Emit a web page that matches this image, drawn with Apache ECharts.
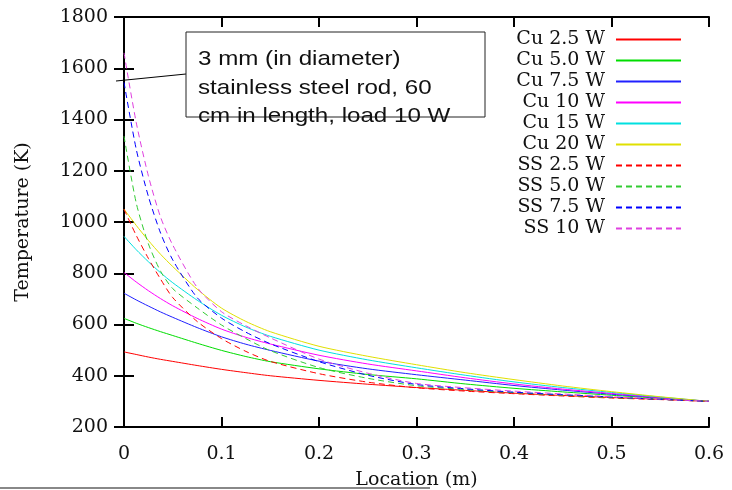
<!DOCTYPE html>
<html><head><meta charset="utf-8">
<script src="https://cdn.jsdelivr.net/npm/echarts@6/dist/echarts.min.js"></script>
<style>html,body{margin:0;padding:0;background:#fff}#c{width:732px;height:490px}</style>
</head><body><div id="c"></div>
<script>
const xs = [0, 0.0125, 0.025, 0.0375, 0.05, 0.075, 0.1, 0.125, 0.15, 0.2, 0.25, 0.3, 0.35, 0.4, 0.45, 0.5, 0.55, 0.6];
const names = ['Cu 2.5 W','Cu 5.0 W','Cu 7.5 W','Cu 10 W','Cu 15 W','Cu 20 W','SS 2.5 W','SS 5.0 W','SS 7.5 W','SS 10 W'];
const cu25 = [493, 483, 473, 464, 456, 440, 425, 412, 400, 382, 367, 354, 343, 332, 323, 315, 308, 300];
const cu50 = [624, 605, 588, 572, 557, 527, 499, 475, 455, 427, 405, 388, 368, 351, 337, 324, 312, 300];
const cu75 = [722, 696, 672, 649, 628, 588, 552, 523, 499, 457, 427, 404, 383, 362, 344, 328, 314, 300];
const cu10 = [803, 766, 732, 701, 673, 624, 582, 550, 524, 480, 446, 419, 392, 368, 348, 331, 315, 300];
const cu15 = [944, 892, 845, 802, 763, 695, 636, 590, 554, 500, 462, 431, 402, 376, 354, 335, 317, 300];
const cu20 = [1050, 987, 928, 874, 826, 738, 664, 612, 572, 515, 476, 443, 412, 385, 360, 338, 318, 300];
const ss25 = [1050, 948, 858, 777, 705, 612, 545, 495, 456, 408, 375, 353, 340, 330, 321, 313, 307, 300];
const ss50 = [1335, 1075, 915, 808, 740, 665, 598, 545, 498, 432, 390, 361, 346, 334, 324, 315, 308, 300];
const ss75 = [1545, 1285, 1100, 957, 852, 705, 625, 570, 525, 455, 402, 366, 349, 336, 326, 317, 308, 300];
const ss10 = [1660, 1389, 1180, 1019, 910, 745, 650, 595, 548, 465, 410, 370, 353, 340, 329, 318, 309, 300];
const yTicks = [200, 400, 600, 800, 1000, 1200, 1400, 1600, 1800];
const xTicks = [0, 0.1, 0.2, 0.3, 0.4, 0.5, 0.6];
const noteLines = ['3 mm (in diameter)', 'stainless steel rod, 60', 'cm in length, load 10 W'];

const allData = [cu25, cu50, cu75, cu10, cu15, cu20, ss25, ss50, ss75, ss10];
const colors = ['#ff0000','#00dd00','#2020ff','#ff00ff','#00e0e0','#e0e000','#ff0000','#33cc33','#0000ff','#e040e0'];

const chart = echarts.init(document.getElementById('c'));
const serif = '"DejaVu Serif", serif';
const tickFont = {fontFamily: serif, fontSize: 19, color: '#111'};
const axisLine = {show: true, lineStyle: {color: '#000', width: 2}};
const axisTick = {show: true, inside: true, length: 10, lineStyle: {color: '#000', width: 2}};

const series = allData.map((d, i) => ({
  name: names[i],
  type: 'line',
  data: d.map((v, j) => [xs[j], v]),
  symbol: 'none',
  smooth: 0.25,
  lineStyle: {color: colors[i], width: 1, type: i >= 6 ? [6, 4] : 'solid'},
  itemStyle: {color: colors[i]},
  z: 3
}));

chart.setOption({
  animation: false,
  backgroundColor: '#fff',
  grid: {left: 124, right: 23, top: 17, bottom: 63, show: false, containLabel: false, outerBoundsMode: 'none'},
  legend: {
    orient: 'vertical', align: 'right', right: 45, top: 24,
    itemWidth: 65, itemHeight: 12, itemGap: 0,
    itemStyle: {opacity: 0, borderWidth: 0},
    formatter: n => n + ' ',
    textStyle: {fontFamily: serif, fontSize: 19, color: '#111', lineHeight: 21},
    data: names
  },
  xAxis: [{
    type: 'value', min: 0, max: 0.6, interval: 0.1,
    name: 'Location (m)', nameLocation: 'middle', nameGap: 44,
    nameTextStyle: {fontFamily: serif, fontSize: 19, color: '#111'},
    axisLine: axisLine, axisTick: axisTick, splitLine: {show: false},
    axisLabel: Object.assign({margin: 18, formatter: v => String(+v.toFixed(1))}, tickFont)
  }, {
    type: 'value', min: 0, max: 0.6, interval: 0.1, position: 'top',
    axisLine: axisLine, axisTick: axisTick, splitLine: {show: false}, axisLabel: {show: false}
  }],
  yAxis: [{
    type: 'value', min: 200, max: 1800, interval: 200,
    name: 'Temperature (K)', nameLocation: 'middle', nameGap: 91,
    nameTextStyle: {fontFamily: serif, fontSize: 19, color: '#111'},
    axisLine: axisLine, axisTick: axisTick, splitLine: {show: false},
    axisLabel: Object.assign({margin: 16, formatter: v => String(v)}, tickFont)
  }, {
    type: 'value', min: 200, max: 1800, interval: 200, position: 'right',
    axisLine: axisLine, axisTick: axisTick, splitLine: {show: false}, axisLabel: {show: false}
  }],
  series: series,
  graphic: [
    {type: 'line', shape: {x1: 116, y1: 81, x2: 186, y2: 74}, style: {stroke: '#000', lineWidth: 1}, z: 10},
    {type: 'rect', shape: {x: 186, y: 32, width: 299, height: 85}, style: {fill: '#fff', stroke: '#222', lineWidth: 1}, z: 10},
    {type: 'text', x: 198, y: 45, scaleX: 1.15, style: {text: noteLines.join('\n'), font: '21px "Liberation Sans", Arial, sans-serif', fill: '#111', lineHeight: 28.5}, z: 11},
    {type: 'line', shape: {x1: 0, y1: 488, x2: 430, y2: 488}, style: {stroke: '#888', lineWidth: 2}, z: 10}
  ]
});
</script></body></html>
